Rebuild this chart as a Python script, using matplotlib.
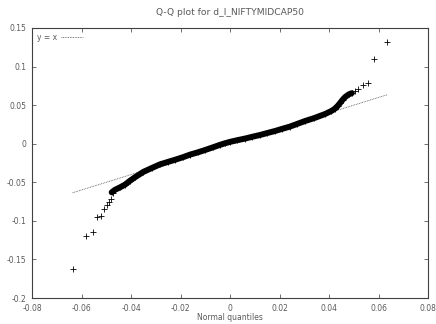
import matplotlib
matplotlib.use("Agg")
import matplotlib.pyplot as plt

# dense middle of the sample quantiles
band_x = [-0.0478, -0.0465, -0.0444, -0.0424, -0.0404, -0.0384, -0.0350, -0.0316,
          -0.0283, -0.0250, -0.0222, -0.0190, -0.0162, -0.0130, -0.0101, -0.0070,
          -0.0040, -0.0020, 0.0, 0.0030, 0.0061, 0.0090, 0.0121, 0.0150, 0.0182,
          0.0210, 0.0242, 0.0270, 0.0303, 0.0340, 0.0384, 0.0410, 0.0424, 0.0435,
          0.0444, 0.0455, 0.0465, 0.0480, 0.0492]
band_y = [-0.0630, -0.0598, -0.0565, -0.0530, -0.0480, -0.0435, -0.0365, -0.0315,
          -0.0268, -0.0235, -0.0208, -0.0175, -0.0142, -0.0112, -0.0082, -0.0048,
          -0.0014, 0.0006, 0.0024, 0.0046, 0.0067, 0.0090, 0.0113, 0.0138, 0.0165,
          0.0192, 0.0222, 0.0255, 0.0294, 0.0332, 0.0385, 0.0425, 0.0455, 0.0490,
          0.0525, 0.0570, 0.0605, 0.0640, 0.0655]

# sparse tail points
tail_x = [-0.0633, -0.0581, -0.0554, -0.0536, -0.0521, -0.0508, -0.0498, -0.0488,
          -0.0482, -0.0474, 0.0505, 0.0519, 0.0539, 0.0556, 0.0583, 0.0636]
tail_y = [-0.1624, -0.1193, -0.1149, -0.0954, -0.0933, -0.0851, -0.0795, -0.0752,
          -0.0721, -0.0643, 0.0683, 0.0705, 0.0761, 0.0791, 0.1094, 0.1315]

# reference line y = x
line_x = [-0.0636, 0.0636]
line_y = [-0.0636, 0.0636]

xticks = [-0.08, -0.06, -0.04, -0.02, 0, 0.02, 0.04, 0.06, 0.08]
yticks = [-0.2, -0.15, -0.1, -0.05, 0, 0.05, 0.1, 0.15]

grey = '#5a5a5a'
plt.rcParams['font.family'] = 'DejaVu Sans'
plt.rcParams['font.size'] = 5.5

fig = plt.figure(figsize=(4.36, 3.24), dpi=100)
ax = fig.add_axes([0.0734, 0.0802, 0.9083, 0.8334])

ax.plot(line_x, line_y, linestyle=(0, (1, 1)), color='#555555', lw=0.6, label='y = x')
ax.plot(band_x, band_y, color='black', lw=4.3, solid_capstyle='round')
ax.plot(band_x, band_y, linestyle='none', marker='+', ms=4.5, mew=0.6, color='black')
ax.plot(tail_x, tail_y, linestyle='none', marker='+', ms=4.5, mew=0.6, color='black')

ax.set_xlim(-0.08, 0.08)
ax.set_ylim(-0.2, 0.15)
ax.set_xticks(xticks)
ax.set_yticks(yticks)
ax.set_xticklabels([f'{t:g}' for t in xticks])
ax.set_yticklabels([f'{t:g}' for t in yticks])
ax.tick_params(direction='in', length=3, width=0.6, colors=grey,
               top=True, right=True, pad=4)
for s in ax.spines.values():
    s.set_color('#404040')
    s.set_linewidth(0.8)

ax.set_title('Q-Q plot for d_l_NIFTYMIDCAP50', color=grey, pad=9)
ax.set_xlabel('Normal quantiles', color=grey, labelpad=0.5)

leg = ax.legend(loc='upper left', frameon=False, handlelength=3, handletextpad=0.5,
                borderaxespad=0.2, markerfirst=False)
for t in leg.get_texts():
    t.set_color(grey)

fig.savefig('out.png', dpi=100)
